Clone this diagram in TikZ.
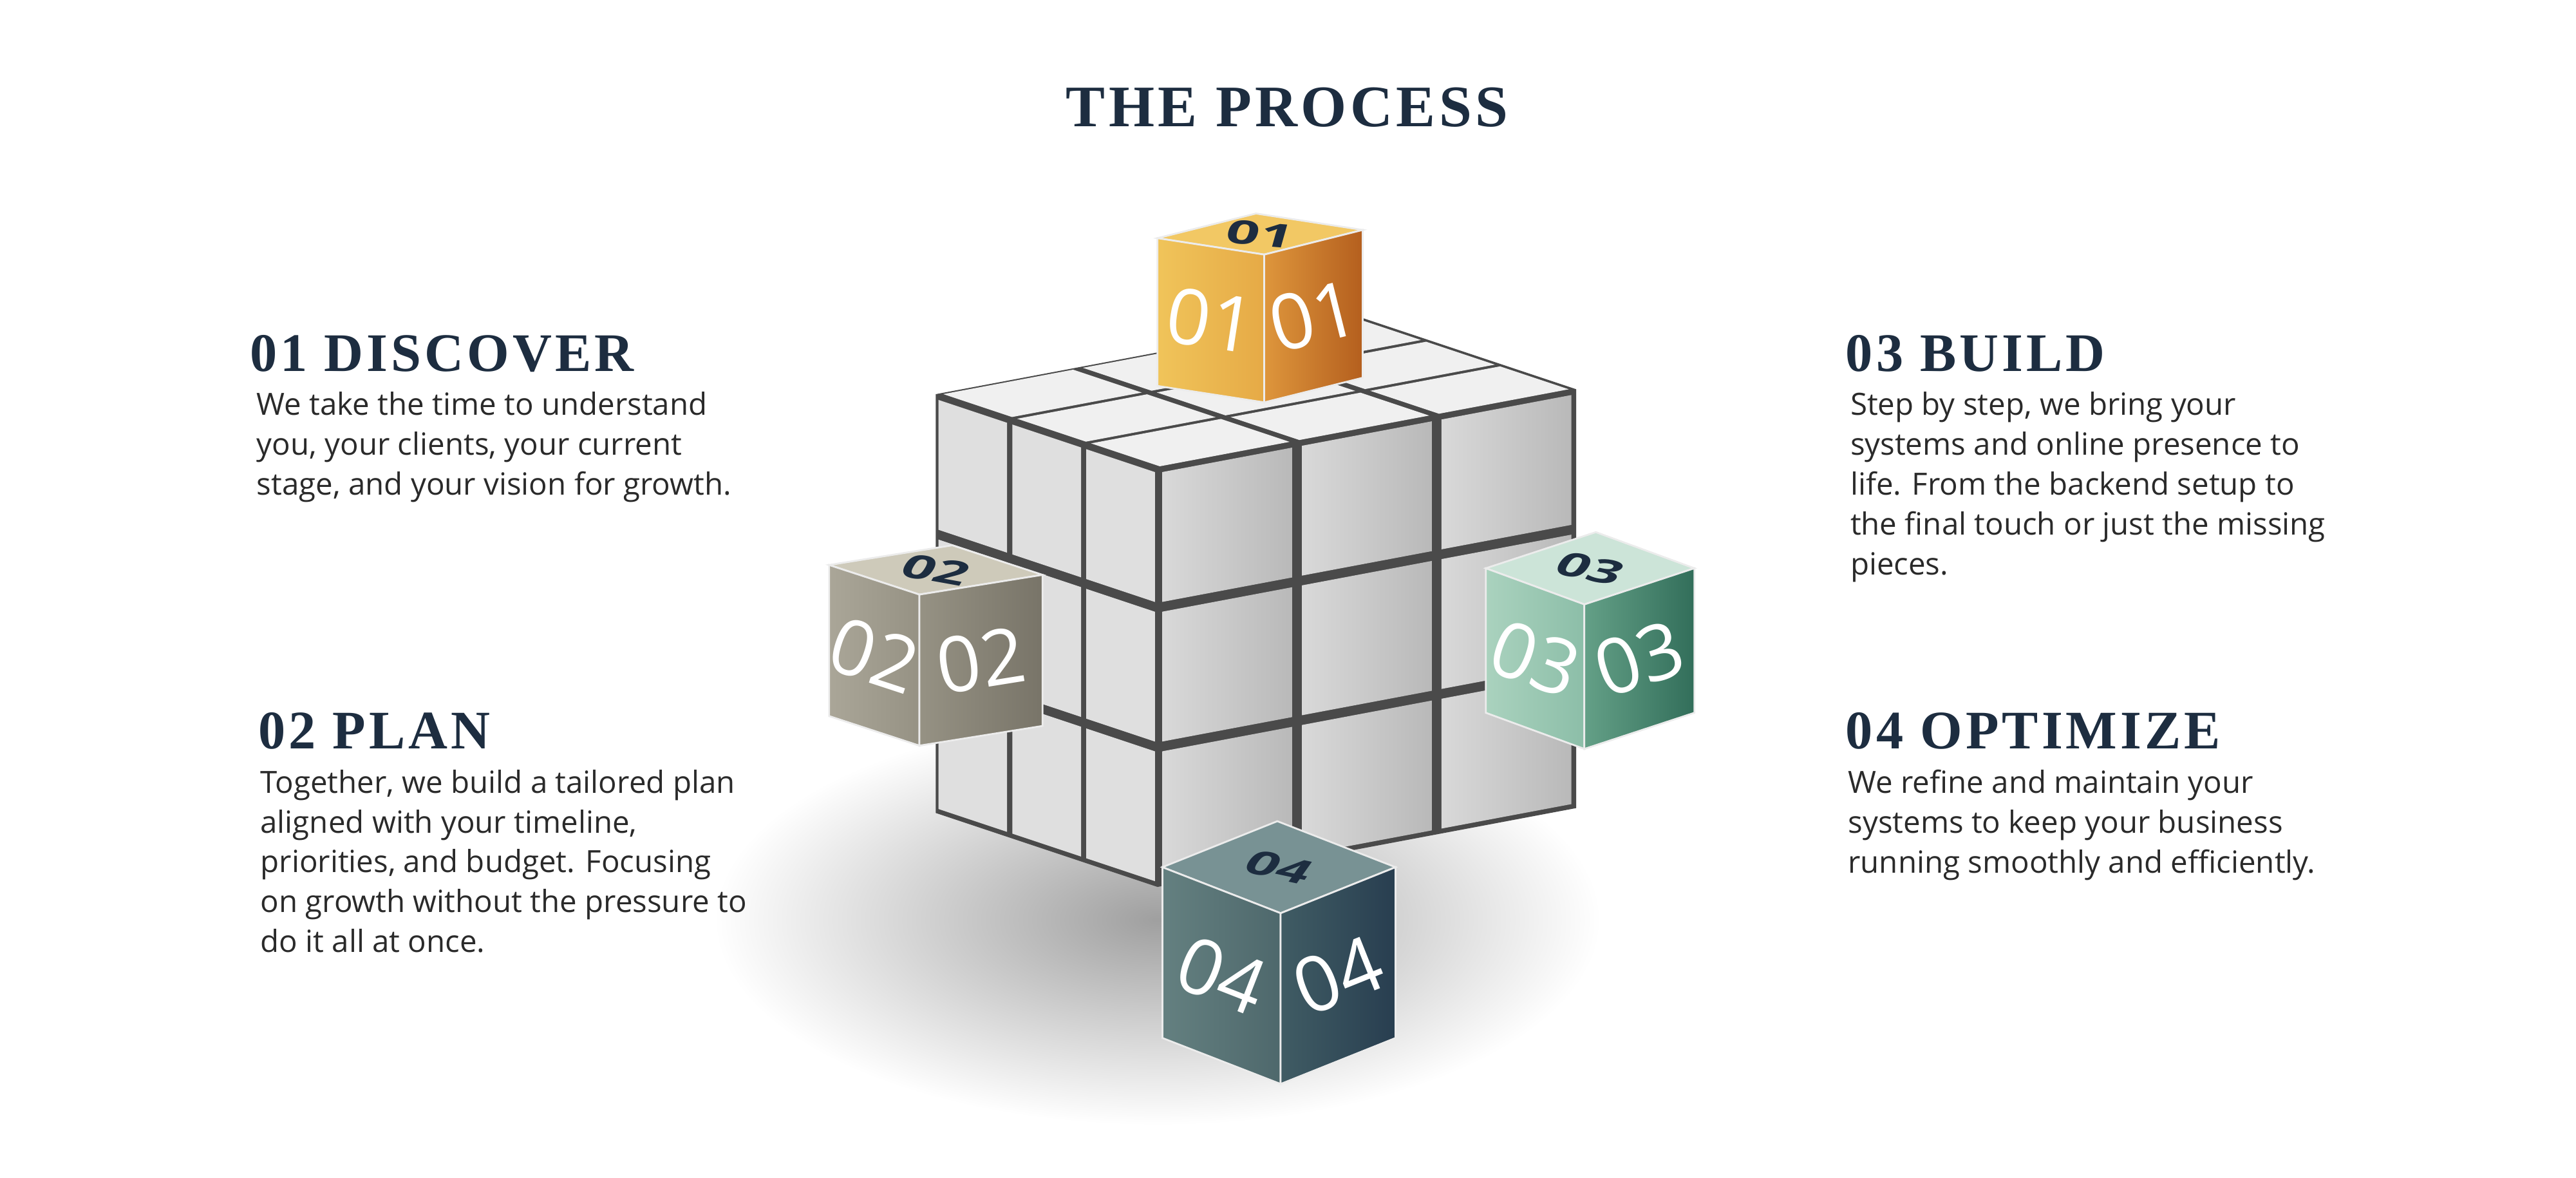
\documentclass[tikz,border=0pt]{standalone}
\usepackage{fontspec}
\setmainfont{Open Sans}
\newfontfamily\headfont[LetterSpace=6]{Liberation Serif}
\usetikzlibrary{calc, positioning}
\definecolor{navy}{HTML}{1D2D40}
\definecolor{bodytext}{HTML}{2A2A2A}
\definecolor{gapgray}{HTML}{4A4A4A}
\tikzset{
  heading/.style={anchor=base west, inner sep=0pt, text=navy,
    font=\headfont\bfseries\fontsize{24}{28}\selectfont},
  body/.style={anchor=north west, inner sep=0pt, align=left, text=bodytext,
    font=\fontsize{13.5}{17.6}\selectfont},
  topface/.style={fill=gray!12},
  leftface/.style={fill=gray!25},
  rightface/.style={left color=gray!30, right color=gray!55},
  facenum/.style={inner sep=0pt, text=white, font=\fontsize{34}{34}\selectfont},
  topnum/.style={inner sep=0pt, text=navy, font=\bfseries\fontsize{26}{26}\selectfont, yscale=0.55},
  top01/.style={fill={rgb,255:red,242;green,200;blue,100}},
  left01/.style={left color={rgb,255:red,240;green,196;blue,90}, right color={rgb,255:red,230;green,170;blue,70}},
  right01/.style={left color={rgb,255:red,222;green,150;blue,60}, right color={rgb,255:red,180;green,95;blue,30}},
  top02/.style={fill={rgb,255:red,206;green,202;blue,186}},
  left02/.style={left color={rgb,255:red,170;green,166;blue,152}, right color={rgb,255:red,150;green,146;blue,132}},
  right02/.style={left color={rgb,255:red,150;green,146;blue,132}, right color={rgb,255:red,120;green,116;blue,104}},
  top03/.style={fill={rgb,255:red,204;green,228;blue,216}},
  left03/.style={left color={rgb,255:red,170;green,210;blue,190}, right color={rgb,255:red,140;green,190;blue,168}},
  right03/.style={left color={rgb,255:red,100;green,160;blue,135}, right color={rgb,255:red,50;green,110;blue,90}},
  top04/.style={fill={rgb,255:red,120;green,146;blue,148}},
  left04/.style={left color={rgb,255:red,100;green,128;blue,128}, right color={rgb,255:red,78;green,104;blue,108}},
  right04/.style={left color={rgb,255:red,64;green,92;blue,100}, right color={rgb,255:red,40;green,62;blue,80}},
}
% #1 name, #2,#3 top front corner, #4,#5 left edge, #6,#7 right edge, #8 height, #9 number
\newcommand\numcube[9]{%
  \pgfmathsetmacro\angL{atan2(#5,-(#4))}
  \pgfmathsetmacro\angR{atan2(-(#7),#6)}
  \pgfmathsetmacro\ax{(#4)*0.0255}\pgfmathsetmacro\ay{-(#5)*0.0255}
  \pgfmathsetmacro\bx{(#6)*0.0255}\pgfmathsetmacro\by{-(#7)*0.0255}
  \pgfmathsetmacro\cz{-(#8)*0.0255}
  \begin{scope}[shift={(#2,#3)}, x={(\ax cm,\ay cm)}, y={(\bx cm,\by cm)},
      z={(0cm,\cz cm)}, draw=white!85!gray, line width=0.8pt]
    \filldraw[top#9] (0,0,0) -- (1,0,0) -- (1,1,0) -- (0,1,0) -- cycle;
    \filldraw[left#9] (0,0,0) -- (1,0,0) -- (1,0,1) -- (0,0,1) -- cycle;
    \filldraw[right#9] (0,0,0) -- (0,1,0) -- (0,1,1) -- (0,0,1) -- cycle;
    \node[topnum, rotate=\angL] (#1top) at (0.5,0.5,0) {#9};
    \node[facenum, rotate=\angL] (#1left) at (0.5,0,0.5) {#9};
    \node[facenum, rotate=\angR] (#1right) at (0,0.5,0.5) {#9};
  \end{scope}}

\begin{document}
\begin{tikzpicture}[x=0.0255cm, y=-0.0255cm]
\useasboundingbox (0,0) rectangle (1569,717);

% Title
\node[anchor=base, inner sep=0pt, text=navy, font=\headfont\bfseries\fontsize{26}{30}\selectfont]
  (title) at (784,77) {THE PROCESS};

% Shadow under the cube
\shade[inner color=gray!75, outer color=white] (705,560) ellipse (270 and 125);

% Big cube
\begin{scope}[shift={(705,285)}, x={(-1.1475cm,0.3825cm)}, y={(2.1675cm,0.408cm)}, z={(0cm,-2.1675cm)}]
  \def\g{0.035}
  \fill[gapgray] (3,0,0) -- (3,3,0) -- (0,3,0) -- (0,3,3) -- (0,0,3) -- (3,0,3) -- cycle;
  \foreach \i in {0,1,2}{
    \foreach \j in {0,1,2}{
      \fill[topface] (\i+\g,\j+\g,0) -- (\i+1-\g,\j+\g,0) -- (\i+1-\g,\j+1-\g,0) -- (\i+\g,\j+1-\g,0) -- cycle;
    }
    \foreach \k in {0,1,2}{
      \fill[leftface] (\i+\g,0,\k+\g) -- (\i+1-\g,0,\k+\g) -- (\i+1-\g,0,\k+1-\g) -- (\i+\g,0,\k+1-\g) -- cycle;
      \shade[rightface] (0,\i+\g,\k+\g) -- (0,\i+1-\g,\k+\g) -- (0,\i+1-\g,\k+1-\g) -- (0,\i+\g,\k+1-\g) -- cycle;
    }
  }
\end{scope}

% Numbered cubes
\numcube{cubeA}{770}{155}{-65}{-10}{60}{-15}{90}{01}
\numcube{cubeB}{560}{362}{-55}{-18}{75}{-12}{92}{02}
\numcube{cubeC}{965}{368}{-60}{-22}{67}{-22}{88}{03}
\numcube{cubeD}{780}{556}{-72}{-28}{70}{-28}{104}{04}

% Steps
\node[heading] (discover) at (152,226) {01 DISCOVER};
\node[body, below=9pt of discover.base west, anchor=north west, xshift=3pt] (discovertext)
  {We take the time to understand\\you, your clients, your current\\stage, and your vision for growth.};

\node[heading] (plan) at (157,456) {02 PLAN};
\node[body, below=9pt of plan.base west, anchor=north west, xshift=1pt] (plantext)
  {Together, we build a tailored plan\\aligned with your timeline,\\priorities, and budget. Focusing\\on growth without the pressure to\\do it all at once.};

\node[heading] (build) at (1124,226) {03 BUILD};
\node[body, below=9pt of build.base west, anchor=north west, xshift=2pt] (buildtext)
  {Step by step, we bring your\\systems and online presence to\\life. From the backend setup to\\the final touch or just the missing\\pieces.};

\node[heading] (optimize) at (1124,456) {04 OPTIMIZE};
\node[body, below=9pt of optimize.base west, anchor=north west, xshift=1pt] (optimizetext)
  {We refine and maintain your\\systems to keep your business\\running smoothly and efficiently.};
\end{tikzpicture}
\end{document}
